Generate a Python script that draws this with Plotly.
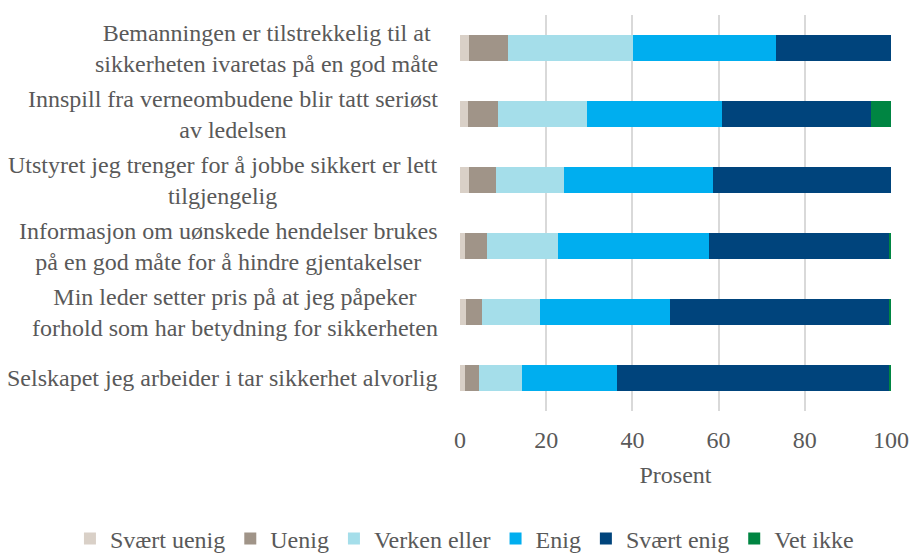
import plotly.graph_objects as go

categories = [
    "Bemanningen er tilstrekkelig til at<br>sikkerheten ivaretas på en god måte",
    "Innspill fra verneombudene blir tatt seriøst<br>av ledelsen",
    "Utstyret jeg trenger for å jobbe sikkert er lett<br>tilgjengelig",
    "Informasjon om uønskede hendelser brukes<br>på en god måte for å hindre gjentakelser",
    "Min leder setter pris på at jeg påpeker<br>forhold som har betydning for sikkerheten",
    "Selskapet jeg arbeider i tar sikkerhet alvorlig",
]
series_names = ["Svært uenig", "Uenig", "Verken eller", "Enig", "Svært enig", "Vet ikke"]
svaert_uenig = [2.1, 1.8, 2.1, 1.2, 1.5, 1.2]
uenig = [9.1, 7.1, 6.3, 5.1, 3.6, 3.1]
verken_eller = [29.0, 20.6, 15.8, 16.4, 13.5, 10.1]
enig = [33.1, 31.2, 34.4, 35.1, 30.1, 22.0]
svaert_enig = [26.7, 34.7, 41.4, 41.8, 50.9, 63.2]
vet_ikke = [0.0, 4.6, 0.0, 0.4, 0.4, 0.4]
x_ticks = [0, 20, 40, 60, 80, 100]
x_title = "Prosent"

colors = ["#D9D0C7", "#A09488", "#A5DEEA", "#00AEEF", "#00447C", "#008542"]
values = [svaert_uenig, uenig, verken_eller, enig, svaert_enig, vet_ikke]
FONT = "Liberation Serif"
GREY = "#595959"
FS = 24

fig = go.Figure()
for name, vals, col in zip(series_names, values, colors):
    fig.add_trace(go.Bar(
        y=categories, x=vals, name=name, orientation="h",
        marker=dict(color=col, line=dict(width=0)),
    ))

for cat in categories:
    fig.add_annotation(
        x=0, xref="paper", y=cat, yref="y", xanchor="right", yanchor="middle",
        xshift=-20, align="center", text=cat, showarrow=False,
        font=dict(family=FONT, size=FS, color=GREY),
    )

fig.update_layout(
    width=909, height=554,
    margin=dict(l=460, r=18, t=15, b=143, autoexpand=False),
    barmode="stack", bargap=0.6,
    paper_bgcolor="white", plot_bgcolor="white",
    font=dict(family=FONT, size=FS, color=GREY),
    showlegend=True,
    legend=dict(
        orientation="h", xref="paper", x=-0.905, xanchor="left",
        yref="paper", y=-0.266, yanchor="top",
        font=dict(family=FONT, size=FS, color=GREY),
        itemwidth=30, traceorder="normal",
    ),
    xaxis=dict(
        range=[0, 100], tickvals=x_ticks, ticks="", showgrid=True,
        gridcolor="#D9D9D9", gridwidth=1.5, zeroline=False, showline=False,
        ticklabelstandoff=12, automargin=False,
        title=dict(text=x_title, standoff=14, font=dict(family=FONT, size=FS, color=GREY)),
        tickfont=dict(family=FONT, size=FS, color=GREY),
    ),
    yaxis=dict(
        autorange="reversed", showticklabels=False, showgrid=False,
        showline=False, ticks="", automargin=False,
    ),
)

fig.write_html("out.html", config={"displayModeBar": False},
               post_script="document.body.style.margin='0';")
